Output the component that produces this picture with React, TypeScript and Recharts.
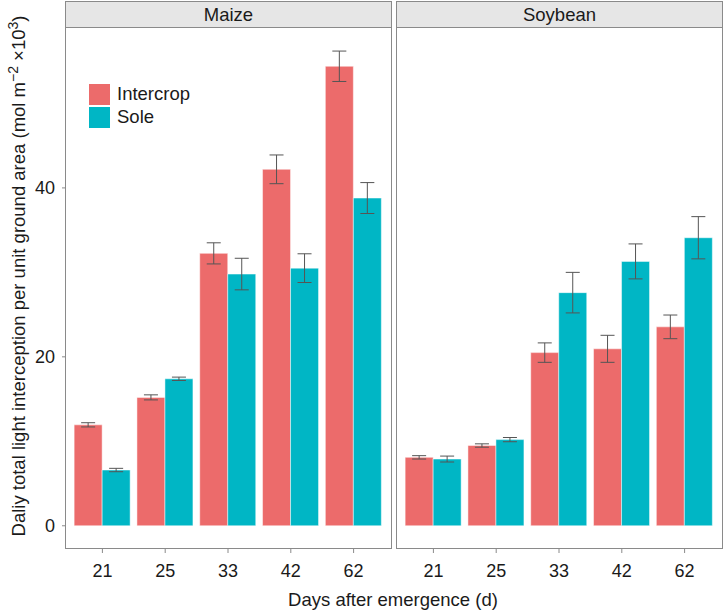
import React from "react";
import { Bar, BarChart, ErrorBar, XAxis, YAxis } from "recharts";

const days = ["21", "25", "33", "42", "62"];

const maizeIntercrop = [11.95, 15.2, 32.25, 42.2, 54.4];
const maizeIntercropErr = [0.25, 0.3, 1.25, 1.7, 1.8];
const maizeSole = [6.6, 17.4, 29.8, 30.5, 38.8];
const maizeSoleErr = [0.2, 0.2, 1.87, 1.7, 1.83];

const soyIntercrop = [8.1, 9.5, 20.5, 20.95, 23.55];
const soyIntercropErr = [0.2, 0.2, 1.15, 1.6, 1.4];
const soySole = [7.9, 10.2, 27.6, 31.3, 34.1];
const soySoleErr = [0.35, 0.25, 2.4, 2.07, 2.5];

const yTicks = [0, 20, 40];
const panels = ["Maize", "Soybean"];
const seriesNames = ["Intercrop", "Sole"];

const RED = "#EC6B6B";
const CYAN = "#00B6C5";
const FONT = '"Liberation Sans", Arial, Helvetica, sans-serif';
const BORDER = "#8a8a8a";
const TEXT = "#1a1a1a";
const Y_DOMAIN: [number, number] = [-2.75, 59.05];

const build = (a: number[], ae: number[], b: number[], be: number[]) =>
  days.map((d, i) => ({ day: d, intercrop: a[i], intercropErr: ae[i], sole: b[i], soleErr: be[i] }));

const maizeData = build(maizeIntercrop, maizeIntercropErr, maizeSole, maizeSoleErr);
const soyData = build(soyIntercrop, soyIntercropErr, soySole, soySoleErr);

// axis tick labels, placed like the ggplot original
const YTick = ({ y, payload }: any) => (
  <text x={55} y={y} dy="0.36em" textAnchor="end" fontSize={18} fill={TEXT} fontFamily={FONT}>
    {payload.value}
  </text>
);

const XTick = ({ x, payload }: any) => (
  <text x={x} y={577} textAnchor="middle" fontSize={18} fill={TEXT} fontFamily={FONT}>
    {payload.value}
  </text>
);

function LegendBox() {
  const colors = [RED, CYAN];
  return (
    <div style={{ position: "absolute", left: 89, top: 83, fontFamily: FONT }}>
      {seriesNames.map((n, i) => (
        <div key={n} style={{ display: "flex", alignItems: "center", height: 22, marginBottom: 1 }}>
          <div style={{ width: 21, height: 21, background: colors[i], marginRight: 7 }} />
          <span style={{ fontSize: 18.5, color: TEXT }}>{n}</span>
        </div>
      ))}
    </div>
  );
}

function Panel({
  data,
  width,
  showY,
}: {
  data: ReturnType<typeof build>;
  width: number;
  showY: boolean;
}) {
  return (
    <BarChart
      width={width}
      height={611}
      data={data}
      margin={{ top: 27, right: showY ? 2 : 0, bottom: 0, left: 0 }}
      barCategoryGap="5%"
      barGap={0}
    >
      <XAxis
        dataKey="day"
        axisLine={false}
        tickSize={4}
        tickLine={{ stroke: BORDER }}
        tick={<XTick />}
        padding={{ left: 6, right: 6 }}
        height={62}
        interval={0}
      />
      <YAxis
        hide={!showY}
        width={showY ? 65 : 0}
        domain={Y_DOMAIN}
        ticks={yTicks}
        axisLine={false}
        tickSize={3}
        tickLine={{ stroke: BORDER }}
        tick={<YTick />}
        allowDataOverflow
      />
      <Bar dataKey="intercrop" fill={RED} stroke="#fff" strokeOpacity={0.6} strokeWidth={0.8} isAnimationActive={false}>
        <ErrorBar dataKey="intercropErr" width={7} stroke="#555" strokeWidth={1} direction="y" />
      </Bar>
      <Bar dataKey="sole" fill={CYAN} stroke="#fff" strokeOpacity={0.6} strokeWidth={0.8} isAnimationActive={false}>
        <ErrorBar dataKey="soleErr" width={7} stroke="#555" strokeWidth={1} direction="y" />
      </Bar>
    </BarChart>
  );
}

function Strip({ left, width, label }: { left: number; width: number; label: string }) {
  return (
    <>
      <div
        style={{
          position: "absolute",
          left,
          top: 1,
          width: width - 2,
          height: 25,
          background: "#E6E6E6",
          border: `1px solid ${BORDER}`,
          display: "flex",
          alignItems: "center",
          justifyContent: "center",
          fontSize: 18.5,
          color: TEXT,
          fontFamily: FONT,
        }}
      >
        {label}
      </div>
      <div
        style={{
          position: "absolute",
          left,
          top: 27,
          width: width - 2,
          height: 521,
          border: `1px solid ${BORDER}`,
          borderTop: "none",
          pointerEvents: "none",
        }}
      />
    </>
  );
}

export default function App() {
  return (
    <div
      style={{
        position: "absolute",
        left: 0,
        top: 0,
        width: 724,
        height: 611,
        background: "#fff",
        fontFamily: FONT,
        overflow: "hidden",
      }}
    >
      <div style={{ position: "absolute", left: 0, top: 0 }}>
        <Panel data={maizeData} width={393} showY />
      </div>
      <div style={{ position: "absolute", left: 396, top: 0 }}>
        <Panel data={soyData} width={326} showY={false} />
      </div>
      <Strip left={65} width={327} label={panels[0]} />
      <Strip left={396} width={327} label={panels[1]} />
      <LegendBox />
      <svg
        width={724}
        height={611}
        style={{ position: "absolute", left: 0, top: 0, pointerEvents: "none" }}
      >
        <text
          x={25}
          y={276}
          transform="rotate(-90, 25, 276)"
          textAnchor="middle"
          fontSize={18.5}
          fill={TEXT}
          fontFamily={FONT}
        >
          Daliy total light interception per unit ground area (mol m
          <tspan dy={-7} fontSize={14}>−2</tspan>
          <tspan dy={7}> ×10</tspan>
          <tspan dy={-7} fontSize={14}>3</tspan>
          <tspan dy={7}>)</tspan>
        </text>
        <text x={393} y={606} textAnchor="middle" fontSize={18.5} fill={TEXT} fontFamily={FONT}>
          Days after emergence (d)
        </text>
      </svg>
    </div>
  );
}
